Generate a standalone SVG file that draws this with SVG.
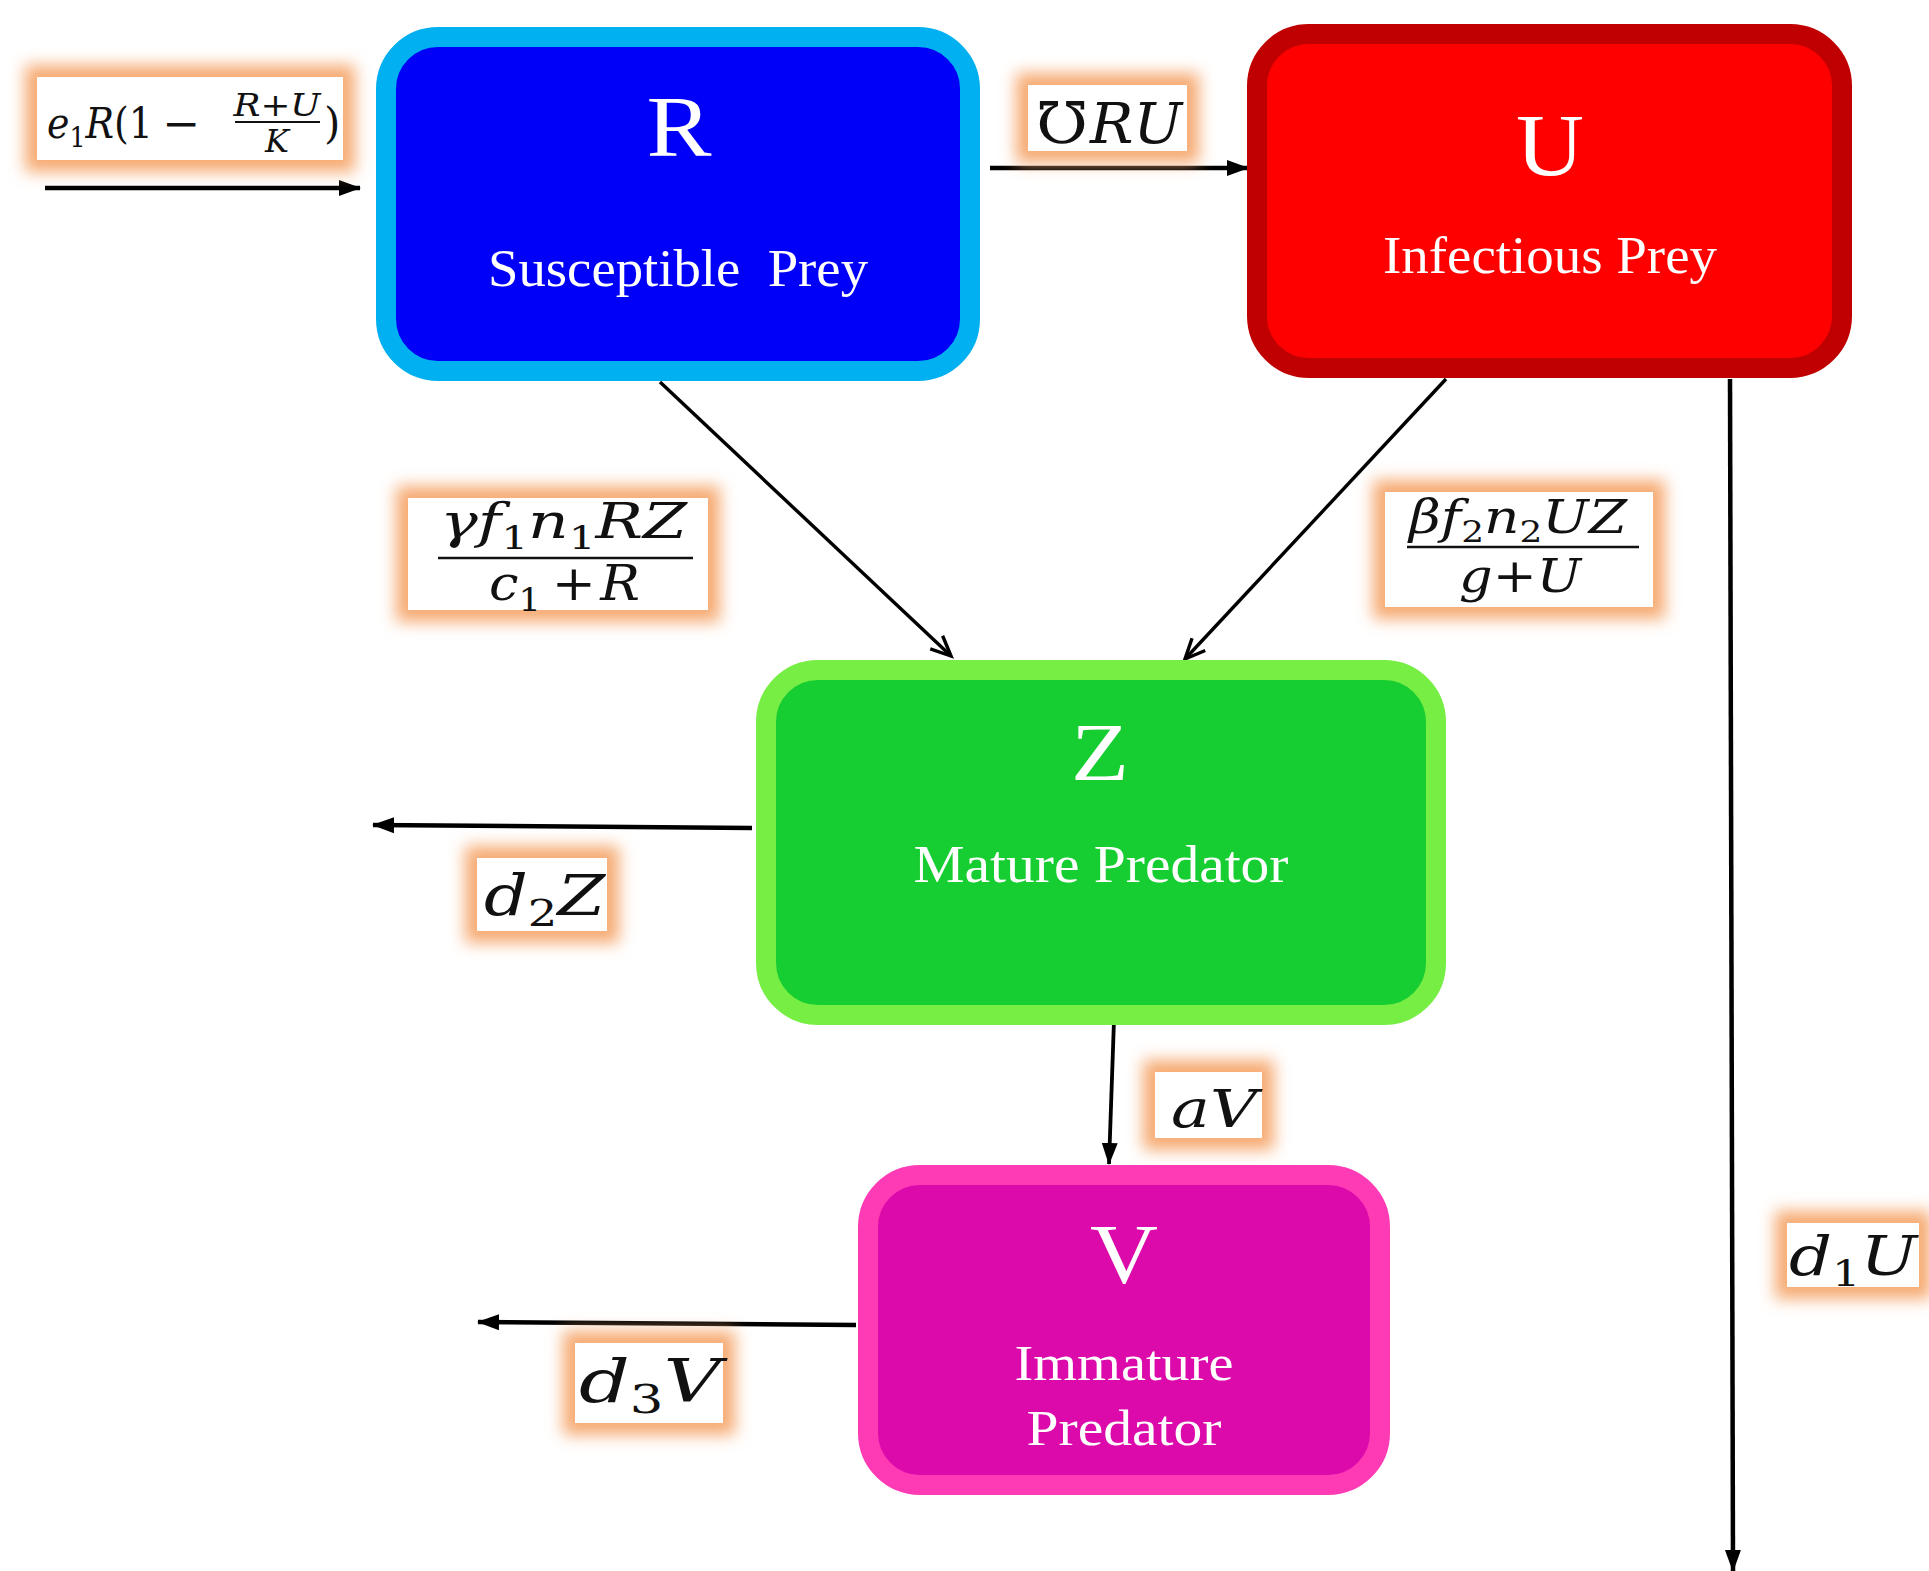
<svg xmlns="http://www.w3.org/2000/svg" width="1929" height="1571" viewBox="0 0 1929 1571">
<defs>
<style>
.node-title{font-family:"Liberation Serif","Times New Roman",serif;fill:#fff;text-anchor:middle;}
.node-sub{font-family:"Liberation Serif","Times New Roman",serif;fill:#fff;text-anchor:middle;}
.m{font-family:"DejaVu Serif","Liberation Serif",serif;font-style:italic;fill:#111;}
.u{font-family:"DejaVu Serif","Liberation Serif",serif;font-style:normal;fill:#111;}
.conn{stroke:#000;fill:none;}
.glow{fill:#F6AA72;filter:url(#blur);}
.lab{fill:#fff;}
.frac{stroke:#111;stroke-width:2.5;}
</style>
<filter id="blur" x="-40%" y="-40%" width="180%" height="180%"><feGaussianBlur stdDeviation="8"/></filter>
<marker id="ah" viewBox="0 0 22 16" refX="21" refY="8" markerWidth="22" markerHeight="17" markerUnits="userSpaceOnUse" orient="auto"><path d="M0,0 L22,8 L0,16 Z" fill="#000"/></marker>
<marker id="av" viewBox="0 0 24 20" refX="22" refY="10" markerWidth="24" markerHeight="20" markerUnits="userSpaceOnUse" orient="auto" overflow="visible"><path d="M2,1 L22,10 L2,19" fill="none" stroke="#000" stroke-width="3.4"/></marker>
</defs>
<rect width="1929" height="1571" fill="#fff"/>

<g id="connectors">
<line class="conn" x1="45" y1="188" x2="360" y2="188" stroke-width="4.5" marker-end="url(#ah)"/>
<line class="conn" x1="990" y1="168" x2="1248" y2="168" stroke-width="4.5" marker-end="url(#ah)"/>
<line class="conn" x1="660" y1="382" x2="951" y2="656" stroke-width="3.4" marker-end="url(#av)"/>
<line class="conn" x1="1446" y1="379" x2="1185" y2="659" stroke-width="3.4" marker-end="url(#av)"/>
<line class="conn" x1="752" y1="828" x2="373" y2="825" stroke-width="4.5" marker-end="url(#ah)"/>
<line class="conn" x1="1114" y1="1020" x2="1109" y2="1164" stroke-width="3.8" marker-end="url(#ah)"/>
<line class="conn" x1="856" y1="1325" x2="478" y2="1322" stroke-width="4.5" marker-end="url(#ah)"/>
<line class="conn" x1="1730" y1="379" x2="1733" y2="1571" stroke-width="4.5" marker-end="url(#ah)"/>
</g>

<g id="node-R">
<rect x="386" y="37" width="584" height="334" rx="52" fill="#0000F8" stroke="#00B0F0" stroke-width="20"/>
<text class="node-title" x="679" y="156" font-size="86" textLength="65" lengthAdjust="spacingAndGlyphs">R</text>
<text class="node-sub" x="678" y="286" font-size="52" textLength="380" lengthAdjust="spacingAndGlyphs" xml:space="preserve">Susceptible  Prey</text>
</g>

<g id="node-U">
<rect x="1257" y="34" width="585" height="334" rx="52" fill="#FF0000" stroke="#C00000" stroke-width="20"/>
<text class="node-title" x="1550" y="175" font-size="88" textLength="68" lengthAdjust="spacingAndGlyphs">U</text>
<text class="node-sub" x="1550" y="273" font-size="52" textLength="334" lengthAdjust="spacingAndGlyphs">Infectious Prey</text>
</g>

<g id="node-Z">
<rect x="766" y="670" width="670" height="345" rx="52" fill="#17CE32" stroke="#77EE44" stroke-width="20"/>
<text class="node-title" x="1100" y="780" font-size="82" textLength="58" lengthAdjust="spacingAndGlyphs">Z</text>
<text class="node-sub" x="1101" y="882" font-size="52" textLength="375" lengthAdjust="spacingAndGlyphs">Mature Predator</text>
</g>

<g id="node-V">
<rect x="868" y="1175" width="512" height="310" rx="52" fill="#DC0AAB" stroke="#FF3AB5" stroke-width="20"/>
<text class="node-title" x="1124" y="1283" font-size="85" textLength="68" lengthAdjust="spacingAndGlyphs">V</text>
<text class="node-sub" x="1124" y="1380" font-size="50" textLength="219" lengthAdjust="spacingAndGlyphs">Immature</text>
<text class="node-sub" x="1124" y="1445" font-size="50" textLength="195" lengthAdjust="spacingAndGlyphs">Predator</text>
</g>

<g id="label-growth">
<rect class="glow" x="25" y="65" width="330" height="107"/>
<rect class="lab" x="37" y="77" width="306" height="83"/>
<text class="m" x="47" y="138" font-size="42" textLength="106" lengthAdjust="spacingAndGlyphs">e<tspan class="u" font-size="28" dy="9">1</tspan><tspan dy="-9">R</tspan><tspan class="u">(1</tspan></text>
<text class="u" x="162" y="138" font-size="42" textLength="38" lengthAdjust="spacingAndGlyphs">−</text>
<text class="m" x="277" y="116" font-size="32" text-anchor="middle" textLength="87" lengthAdjust="spacingAndGlyphs">R<tspan class="u">+</tspan>U</text>
<line x1="235" y1="122" x2="320" y2="122" stroke="#111" stroke-width="1.8"/>
<text class="m" x="277" y="152" font-size="32" text-anchor="middle">K</text>
<text class="u" x="324" y="138" font-size="42">)</text>
</g>

<g id="label-infection">
<rect class="glow" x="1016" y="73" width="183" height="90"/>
<rect class="lab" x="1028" y="85" width="159" height="66"/>
<text class="u" x="1036" y="143" font-size="58" textLength="52" lengthAdjust="spacingAndGlyphs">℧</text>
<text class="m" x="1090" y="143" font-size="56" textLength="92" lengthAdjust="spacingAndGlyphs">RU</text>
</g>

<g id="label-predR">
<rect class="glow" x="396" y="486" width="324" height="136"/>
<rect class="lab" x="408" y="498" width="300" height="112"/>
<text class="m" x="440" y="538" font-size="48" textLength="247" lengthAdjust="spacingAndGlyphs">γf<tspan class="u" font-size="32" dy="11">1</tspan><tspan dy="-11">n</tspan><tspan class="u" font-size="32" dy="11">1</tspan><tspan dy="-11">RZ</tspan></text>
<line class="frac" x1="438" y1="558" x2="693" y2="558"/>
<text class="m" x="489" y="600" font-size="48" textLength="151" lengthAdjust="spacingAndGlyphs">c<tspan class="u" font-size="32" dy="11">1</tspan><tspan class="u" dy="-11" dx="10">+</tspan><tspan dx="4">R</tspan></text>
</g>

<g id="label-predU">
<rect class="glow" x="1373" y="480" width="292" height="139"/>
<rect class="lab" x="1385" y="492" width="268" height="115"/>
<text class="m" x="1409" y="533" font-size="46" textLength="218" lengthAdjust="spacingAndGlyphs">βf<tspan class="u" font-size="30" dy="9">2</tspan><tspan dy="-9">n</tspan><tspan class="u" font-size="30" dy="9">2</tspan><tspan dy="-9">UZ</tspan></text>
<line class="frac" x1="1407" y1="547" x2="1639" y2="547"/>
<text class="m" x="1459" y="592" font-size="46" textLength="122" lengthAdjust="spacingAndGlyphs">g<tspan class="u">+</tspan>U</text>
</g>

<g id="label-d2Z">
<rect class="glow" x="465" y="846" width="154" height="97"/>
<rect class="lab" x="477" y="858" width="130" height="73"/>
<text class="m" x="484" y="915" font-size="56" textLength="121" lengthAdjust="spacingAndGlyphs">d<tspan class="u" font-size="38" dy="11">2</tspan><tspan dy="-11">Z</tspan></text>
</g>

<g id="label-aV">
<rect class="glow" x="1143" y="1060" width="131" height="90"/>
<rect class="lab" x="1155" y="1072" width="107" height="66"/>
<text class="m" x="1171" y="1127" font-size="52" textLength="86" lengthAdjust="spacingAndGlyphs">aV</text>
</g>

<g id="label-d3V">
<rect class="glow" x="563" y="1331" width="172" height="104"/>
<rect class="lab" x="575" y="1343" width="148" height="80"/>
<text class="m" x="579" y="1402" font-size="60" textLength="142" lengthAdjust="spacingAndGlyphs">d<tspan class="u" font-size="40" dy="11">3</tspan><tspan dy="-11">V</tspan></text>
</g>

<g id="label-d1U">
<rect class="glow" x="1775" y="1211" width="156" height="88"/>
<rect class="lab" x="1787" y="1223" width="132" height="64"/>
<text class="m" x="1789" y="1275" font-size="54" textLength="128" lengthAdjust="spacingAndGlyphs">d<tspan class="u" font-size="36" dy="11">1</tspan><tspan dy="-11">U</tspan></text>
</g>
</svg>
